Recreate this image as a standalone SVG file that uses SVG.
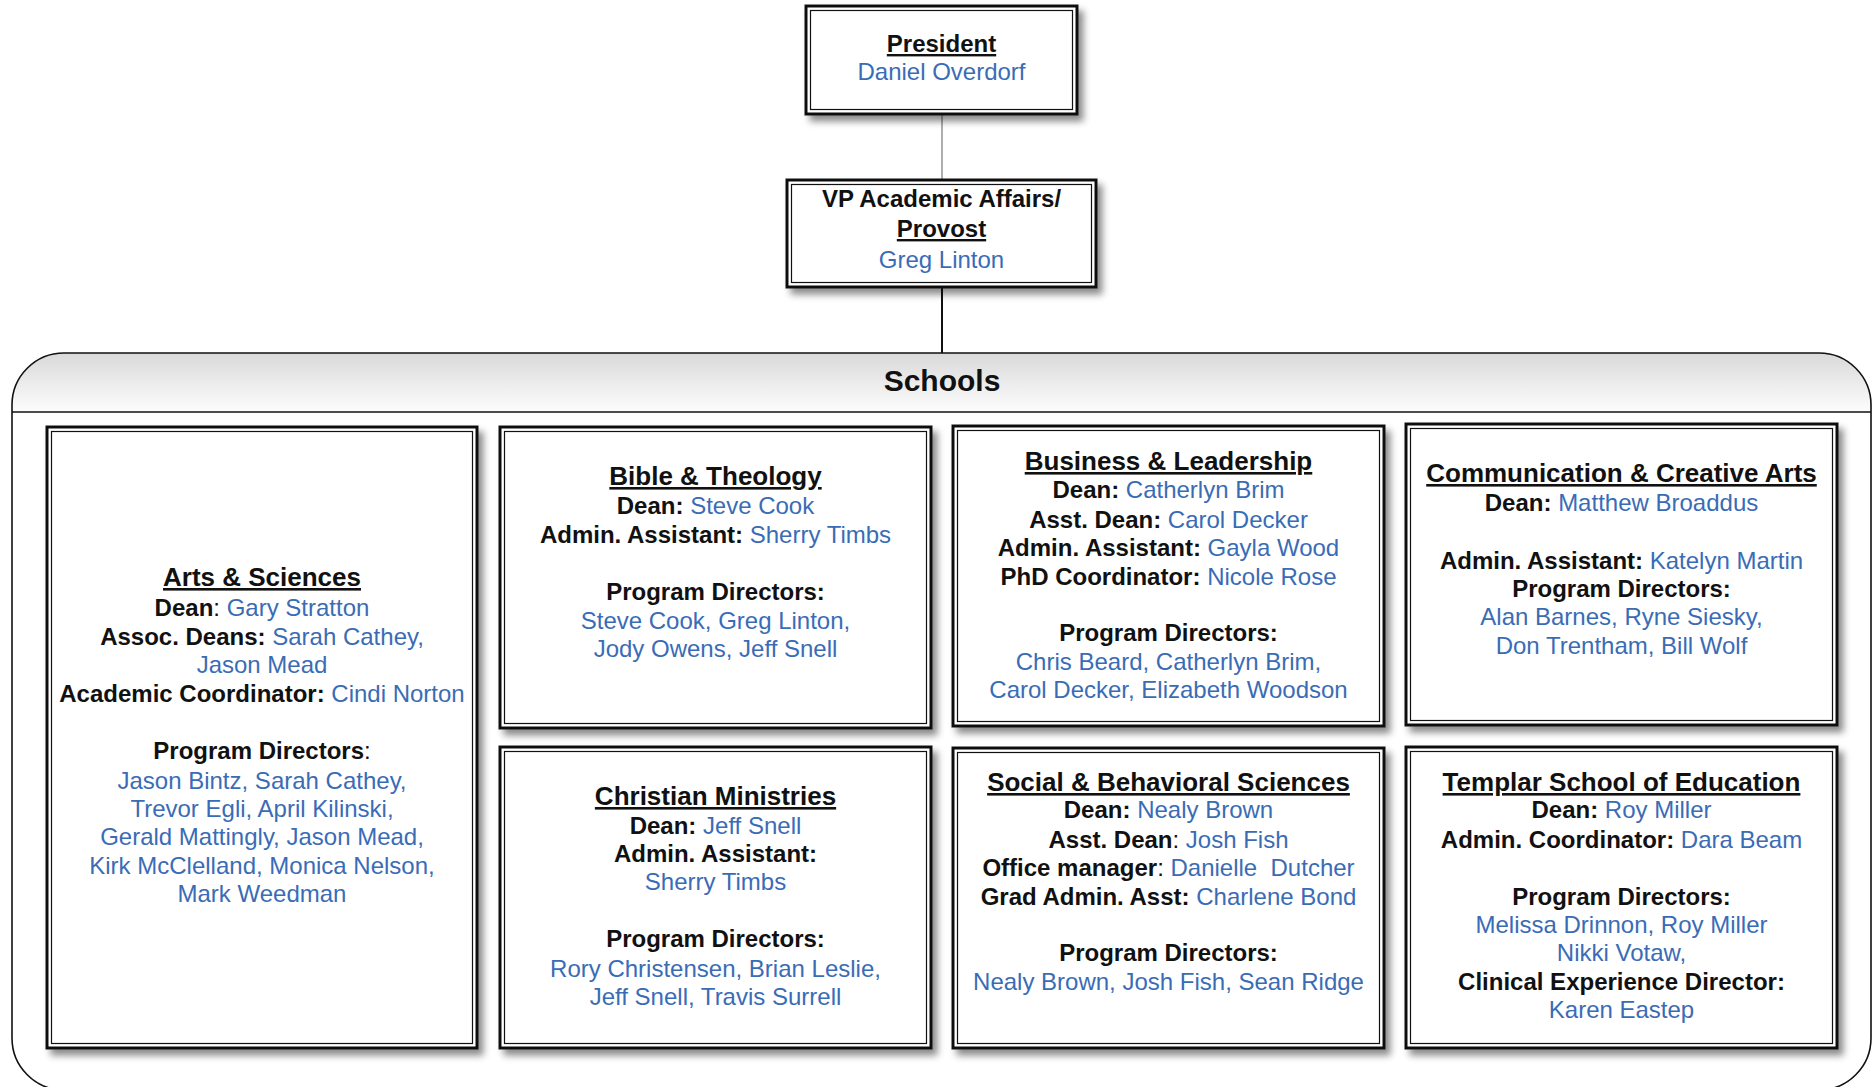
<svg xmlns="http://www.w3.org/2000/svg" width="1873" height="1087" viewBox="0 0 1873 1087">
<defs>
<linearGradient id="hdr" x1="0" y1="0" x2="0" y2="1">
<stop offset="0" stop-color="#d9d9d9"/>
<stop offset="1" stop-color="#fdfdfd"/>
</linearGradient>
<filter id="sh" x="-10%" y="-10%" width="125%" height="125%">
<feDropShadow dx="5" dy="6" stdDeviation="3.5" flood-color="#000" flood-opacity="0.45"/>
</filter>
</defs>
<style>
text{font-family:"Liberation Sans",Arial,sans-serif;font-size:24px;text-anchor:middle;fill:#111}
.t{font-size:26px;font-weight:bold;text-decoration:underline}
.b{font-weight:bold}
.n{fill:#3a6cb6}
.o{fill:#fff;stroke:#111;stroke-width:3}
.i{fill:none;stroke:#111;stroke-width:1.2}
.hd{font-size:30px;font-weight:bold}
</style>
<rect width="1873" height="1087" fill="#fff"/>
<g id="schools">
<path d="M12,412 V405 A52,52 0 0 1 64,353 H1819 A52,52 0 0 1 1871,405 V412 Z" fill="url(#hdr)"/>
<rect x="12" y="353" width="1859" height="737" rx="52" ry="52" fill="none" stroke="#111" stroke-width="1.6"/>
<line x1="12" y1="412" x2="1871" y2="412" stroke="#111" stroke-width="1.6"/>
<text class="hd" x="942" y="391">Schools</text>
</g>
<g id="connectors">
<line x1="942" y1="114" x2="942" y2="180" stroke="#9a9a9a" stroke-width="1.6"/>
<line x1="942" y1="287" x2="942" y2="353" stroke="#111" stroke-width="2"/>
</g>
<g id="president">
<rect class="o" x="806" y="6" width="271" height="108" filter="url(#sh)"/>
<rect class="i" x="810.5" y="10.5" width="262" height="99"/>
<text x="941.5" y="52" class="b" style="text-decoration:underline">President</text>
<text x="941.5" y="80" class="n">Daniel Overdorf</text>
</g>
<g id="vp">
<rect class="o" x="787" y="180" width="309" height="107" filter="url(#sh)"/>
<rect class="i" x="791.5" y="184.5" width="300" height="98"/>
<text x="941.5" y="207" class="b">VP Academic Affairs/</text>
<text x="941.5" y="237" class="b" style="text-decoration:underline">Provost</text>
<text x="941.5" y="268" class="n">Greg Linton</text>
</g>
<g id="arts">
<rect class="o" x="47" y="427" width="430" height="621" filter="url(#sh)"/>
<rect class="i" x="51.5" y="431.5" width="421" height="612"/>
<text x="262" y="586" class="t">Arts &amp; Sciences</text>
<text x="262" y="616"><tspan class="b">Dean</tspan>: <tspan class="n">Gary Stratton</tspan></text>
<text x="262" y="645"><tspan class="b">Assoc. Deans: </tspan><tspan class="n">Sarah Cathey,</tspan></text>
<text x="262" y="673" class="n">Jason Mead</text>
<text x="262" y="702"><tspan class="b">Academic Coordinator: </tspan><tspan class="n">Cindi Norton</tspan></text>
<text x="262" y="759"><tspan class="b">Program Directors</tspan>:</text>
<text x="262" y="789" class="n">Jason Bintz, Sarah Cathey,</text>
<text x="262" y="817" class="n">Trevor Egli, April Kilinski,</text>
<text x="262" y="845" class="n">Gerald Mattingly, Jason Mead,</text>
<text x="262" y="874" class="n">Kirk McClelland, Monica Nelson,</text>
<text x="262" y="902" class="n">Mark Weedman</text>
</g>
<g id="bible">
<rect class="o" x="500" y="427" width="431" height="301" filter="url(#sh)"/>
<rect class="i" x="504.5" y="431.5" width="422" height="292"/>
<text x="715.5" y="485" class="t">Bible &amp; Theology</text>
<text x="715.5" y="514"><tspan class="b">Dean: </tspan><tspan class="n">Steve Cook</tspan></text>
<text x="715.5" y="543"><tspan class="b">Admin. Assistant: </tspan><tspan class="n">Sherry Timbs</tspan></text>
<text x="715.5" y="600" class="b">Program Directors:</text>
<text x="715.5" y="629" class="n">Steve Cook, Greg Linton,</text>
<text x="715.5" y="657" class="n">Jody Owens, Jeff Snell</text>
</g>
<g id="christian">
<rect class="o" x="500" y="747" width="431" height="301" filter="url(#sh)"/>
<rect class="i" x="504.5" y="751.5" width="422" height="292"/>
<text x="715.5" y="805" class="t">Christian Ministries</text>
<text x="715.5" y="834"><tspan class="b">Dean: </tspan><tspan class="n">Jeff Snell</tspan></text>
<text x="715.5" y="862" class="b">Admin. Assistant:</text>
<text x="715.5" y="890" class="n">Sherry Timbs</text>
<text x="715.5" y="947" class="b">Program Directors:</text>
<text x="715.5" y="977" class="n">Rory Christensen, Brian Leslie,</text>
<text x="715.5" y="1005" class="n">Jeff Snell, Travis Surrell</text>
</g>
<g id="business">
<rect class="o" x="953" y="426" width="431" height="300" filter="url(#sh)"/>
<rect class="i" x="957.5" y="430.5" width="422" height="291"/>
<text x="1168.5" y="470" class="t">Business &amp; Leadership</text>
<text x="1168.5" y="498"><tspan class="b">Dean: </tspan><tspan class="n">Catherlyn Brim</tspan></text>
<text x="1168.5" y="528"><tspan class="b">Asst. Dean: </tspan><tspan class="n">Carol Decker</tspan></text>
<text x="1168.5" y="556"><tspan class="b">Admin. Assistant: </tspan><tspan class="n">Gayla Wood</tspan></text>
<text x="1168.5" y="585"><tspan class="b">PhD Coordinator: </tspan><tspan class="n">Nicole Rose</tspan></text>
<text x="1168.5" y="641" class="b">Program Directors:</text>
<text x="1168.5" y="670" class="n">Chris Beard, Catherlyn Brim,</text>
<text x="1168.5" y="698" class="n">Carol Decker, Elizabeth Woodson</text>
</g>
<g id="social">
<rect class="o" x="953" y="748" width="431" height="300" filter="url(#sh)"/>
<rect class="i" x="957.5" y="752.5" width="422" height="291"/>
<text x="1168.5" y="791" class="t">Social &amp; Behavioral Sciences</text>
<text x="1168.5" y="818"><tspan class="b">Dean: </tspan><tspan class="n">Nealy Brown</tspan></text>
<text x="1168.5" y="848"><tspan class="b">Asst. Dean</tspan>: <tspan class="n">Josh Fish</tspan></text>
<text x="1168.5" y="876" xml:space="preserve"><tspan class="b">Office manager</tspan>: <tspan class="n">Danielle  Dutcher</tspan></text>
<text x="1168.5" y="905"><tspan class="b">Grad Admin. Asst: </tspan><tspan class="n">Charlene Bond</tspan></text>
<text x="1168.5" y="961" class="b">Program Directors:</text>
<text x="1168.5" y="990" class="n">Nealy Brown, Josh Fish, Sean Ridge</text>
</g>
<g id="communication">
<rect class="o" x="1406" y="424" width="431" height="301" filter="url(#sh)"/>
<rect class="i" x="1410.5" y="428.5" width="422" height="292"/>
<text x="1621.5" y="482" class="t">Communication &amp; Creative Arts</text>
<text x="1621.5" y="511"><tspan class="b">Dean: </tspan><tspan class="n">Matthew Broaddus</tspan></text>
<text x="1621.5" y="569"><tspan class="b">Admin. Assistant: </tspan><tspan class="n">Katelyn Martin</tspan></text>
<text x="1621.5" y="597" class="b">Program Directors:</text>
<text x="1621.5" y="625" class="n">Alan Barnes, Ryne Siesky,</text>
<text x="1621.5" y="654" class="n">Don Trentham, Bill Wolf</text>
</g>
<g id="templar">
<rect class="o" x="1406" y="747" width="431" height="301" filter="url(#sh)"/>
<rect class="i" x="1410.5" y="751.5" width="422" height="292"/>
<text x="1621.5" y="791" class="t">Templar School of Education</text>
<text x="1621.5" y="818"><tspan class="b">Dean: </tspan><tspan class="n">Roy Miller</tspan></text>
<text x="1621.5" y="848"><tspan class="b">Admin. Coordinator: </tspan><tspan class="n">Dara Beam</tspan></text>
<text x="1621.5" y="905" class="b">Program Directors:</text>
<text x="1621.5" y="933" class="n">Melissa Drinnon, Roy Miller</text>
<text x="1621.5" y="961" class="n">Nikki Votaw,</text>
<text x="1621.5" y="990" class="b">Clinical Experience Director:</text>
<text x="1621.5" y="1018" class="n">Karen Eastep</text>
</g>
</svg>
